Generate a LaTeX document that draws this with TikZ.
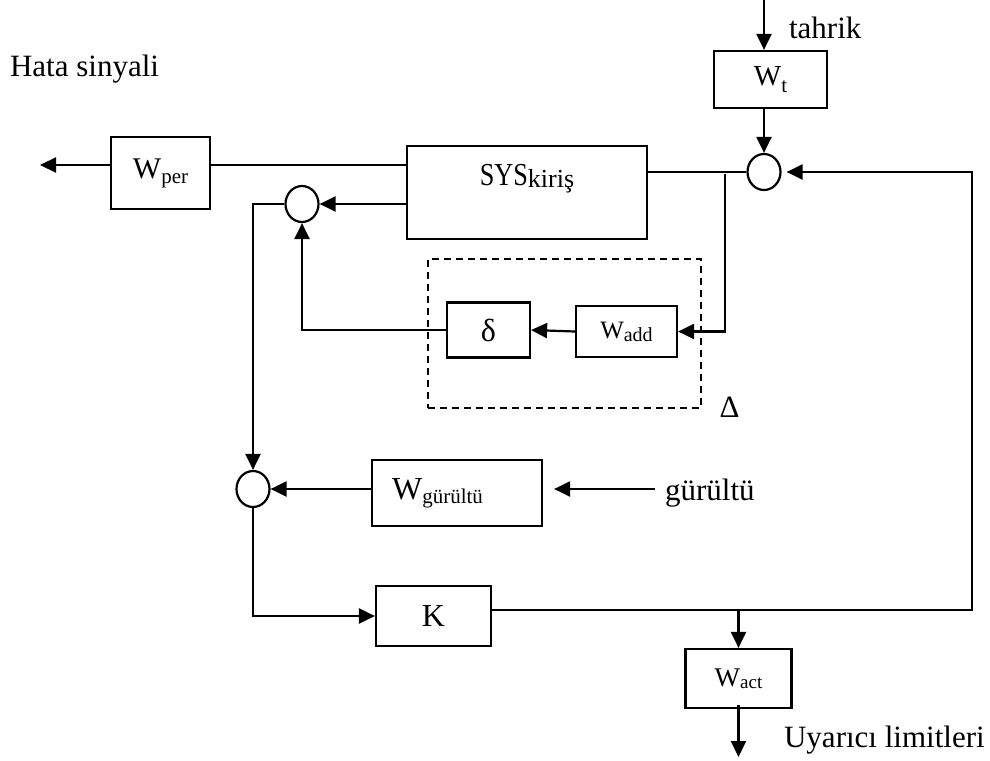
\documentclass[tikz,border=0pt]{standalone}
\usepackage{fontspec}
\setmainfont{Liberation Serif}
\usetikzlibrary{arrows.meta,shapes.geometric}
\newcommand\fsz[2]{{\fontsize{#1}{#1}\selectfont #2}}
\newcommand\subx[3]{\raisebox{-#1pt}{\fontsize{#2}{#2}\selectfont #3}}
\begin{document}
\begin{tikzpicture}[x=1pt,y=-1pt,line width=2.2pt,
  box/.style={draw,inner sep=0pt,line width=2.2pt},
  sumnode/.style={draw,ellipse,minimum width=33pt,minimum height=36pt,inner sep=0pt,line width=2.2pt},
  arr/.style={-{Triangle[length=16pt,width=15pt]}},
  txt/.style={inner sep=0pt,font=\fontsize{31}{31}\selectfont}]
\useasboundingbox (0,0) rectangle (990,760);

% blocks
\node[box,minimum width=99pt,minimum height=72pt] (wper) at (160.5,173) {\fsz{30}{W}\subx{5}{21}{per}};
\node[box,minimum width=240pt,minimum height=93pt] (sys) at (527,192.5) {};
\node[inner sep=0pt,anchor=base] (syst) at (527,185) {\fsz{32}{\scalebox{0.82}[1]{SYS}}\subx{2}{26}{kiriş}};
\node[box,minimum width=113pt,minimum height=57pt] (wt) at (770.5,79.5) {\fsz{29}{W}\subx{7}{21}{t}};
\node[box,minimum width=83pt,minimum height=55pt] (delta) at (488.5,330) {\fsz{32}{δ}};
\node[box,minimum width=101pt,minimum height=51pt] (wadd) at (626.5,331.5) {\fsz{25}{W}\subx{3}{20}{add}};
\node[draw,dashed,dash pattern=on 7pt off 5pt,inner sep=0pt,minimum width=273pt,minimum height=149pt] (dbox) at (564.5,333.5) {};
\node[box,minimum width=170pt,minimum height=66pt] (wgur) at (457,493) {};
\node[inner sep=0pt] (wgurt) at (437.5,493) {\fsz{32}{W}\subx{4}{21}{gürültü}};
\node[box,minimum width=115pt,minimum height=60pt] (k) at (433.5,616) {\fsz{32}{K}};
\node[box,minimum width=106pt,minimum height=59pt] (wact) at (738.5,678.5) {\fsz{27}{W}\subx{2}{19}{act}};

% summing junctions
\node[sumnode] (sum1) at (302,204) {};
\node[sumnode] (sum2) at (253,489) {};
\node[sumnode] (sum3) at (764,172) {};

% texts
\node[txt,anchor=base west] (hata) at (9,77) {Hata sinyali};
\node[txt,anchor=base west] (tahrik) at (788,39) {tahrik};
\node[txt,anchor=base west] (gtext) at (664,500) {gürültü};
\node[txt,anchor=base west] (uyar) at (783,747) {Uyarıcı limitleri};
\node[txt,anchor=base] (dlt) at (729.5,417) {Δ};

% coordinates
\coordinate (outp) at (40,165);
\coordinate (br) at (725,174);
\coordinate (tin) at (764,0);
\coordinate (rc) at (972,610);
\coordinate (ac) at (738.5,610);
\coordinate (uout) at (738.5,757);
\coordinate (gs) at (655,489);

% connectors
\draw[arr] (wper.west |- outp) -- (outp);
\draw (sys.west |- outp) -- (wper.east |- outp);
\draw[arr] (sys.west |- sum1) -- (sum1.east);
\draw[arr] (sum1.west) -- (sum1.west -| sum2) -- (sum2.north);
\draw[arr] (delta.west) -- (delta.west -| sum1) -- (sum1.south);
\draw[arr] (wadd.west) -- (delta.east);
\draw (sys.east |- sum3) -- (sum3.west);
\draw[arr] (br) -- (br |- wadd) -- (wadd.east);
\draw[arr] (tin) -- (tin |- wt.north);
\draw[arr] (sum3 |- wt.south) -- (sum3.north);
\draw[arr,shorten >=5pt] (k.east |- rc) -- (rc) -- (rc |- sum3) -- (sum3.east);
\draw[arr] (ac) -- (wact.north);
\draw[arr] ([yshift=4pt]wact.south) -- (uout);
\draw[arr,shorten >=11pt] (gs) -- (gs -| wgur.east);
\draw[arr] (wgur.west |- sum2) -- (sum2.east);
\draw[arr] (sum2.south) -- (sum2 |- k) -- (k.west);
\end{tikzpicture}
\end{document}
